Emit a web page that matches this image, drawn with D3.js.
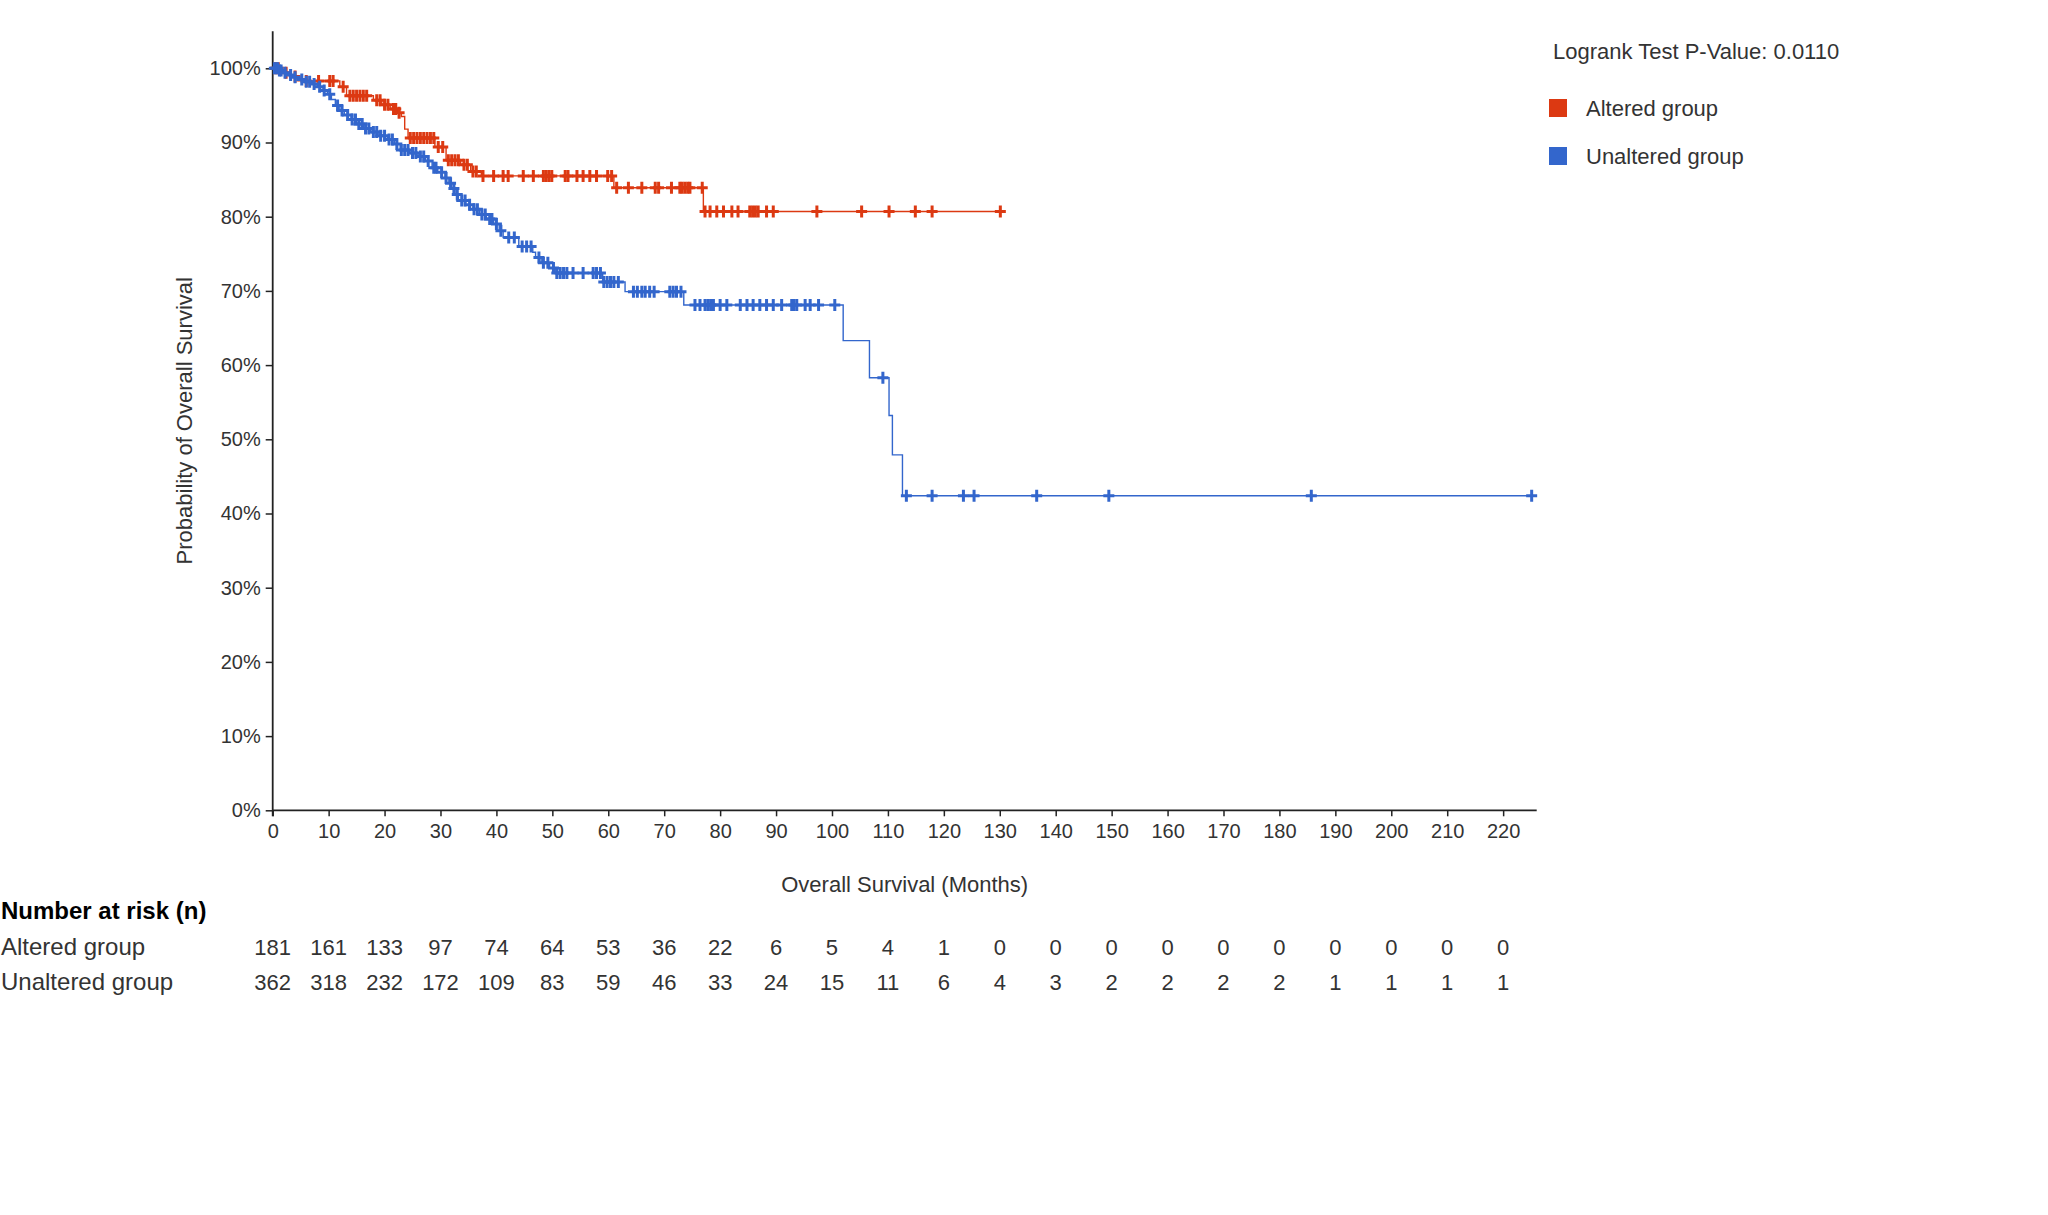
<!DOCTYPE html>
<html>
<head>
<meta charset="utf-8">
<script src="https://cdn.jsdelivr.net/npm/d3@7"></script>
<style>
  body { margin: 0; background: #fff; }
  svg { display: block; font-family: "Liberation Sans", Arial, sans-serif; }
</style>
</head>
<body>
<svg id="chart" width="2048" height="1215"></svg>
<script>
  // KM steps: [month, survival after the event]
  const alteredSteps = [
    [0, 1.0], [1.5, 0.994], [3.0, 0.989], [4.5, 0.983], [12.0, 0.975], [13.2, 0.963],
    [18.0, 0.957], [19.5, 0.951], [21.0, 0.945], [22.3, 0.940], [23.0, 0.935], [23.6, 0.918],
    [24.2, 0.906], [29.0, 0.894], [31.0, 0.876], [33.6, 0.870], [35.4, 0.861], [37.3, 0.855],
    [61.0, 0.839], [77.0, 0.807]
  ]
  const unalteredSteps = [
    [0, 1.0], [1.0, 0.997], [1.8, 0.994], [2.5, 0.991], [3.5, 0.988], [4.5, 0.985], [5.5, 0.982],
    [7.0, 0.979], [8.0, 0.975], [9.0, 0.970], [9.8, 0.965], [10.5, 0.958], [11.2, 0.950],
    [12.0, 0.943], [12.8, 0.937], [14.0, 0.931], [15.0, 0.925], [16.2, 0.919], [17.5, 0.914],
    [19.0, 0.909], [20.5, 0.904], [21.8, 0.898], [22.8, 0.890], [24.5, 0.886], [26.0, 0.881],
    [27.3, 0.875], [28.5, 0.866], [29.5, 0.860], [30.8, 0.852], [31.5, 0.845], [32.0, 0.838],
    [32.6, 0.830], [33.2, 0.822], [34.5, 0.816], [35.8, 0.810], [37.0, 0.803], [38.2, 0.797],
    [39.5, 0.790], [40.5, 0.781], [41.2, 0.772], [44.0, 0.760], [46.5, 0.752], [47.0, 0.745],
    [48.0, 0.738], [49.5, 0.731], [50.5, 0.724], [59.0, 0.712], [63.0, 0.699], [73.5, 0.681],
    [102.0, 0.633], [106.7, 0.583], [110.2, 0.532], [110.8, 0.479], [112.6, 0.424]
  ]

  // censored months
  const alteredCensor = [
    0.5, 1.0, 2.4, 4.0, 6.0, 8.2, 10.2, 10.8, 12.6, 13.8, 14.4, 15.0, 15.6, 16.2, 16.8, 18.6,
    19.2, 20.0, 20.6, 21.6, 22.0, 22.6, 24.6, 25.2, 25.8, 26.4, 27.0, 27.6, 28.2, 28.8, 29.6,
    30.4, 31.4, 32.0, 32.6, 33.2, 34.2, 34.8, 35.8, 36.4, 37.6, 39.5, 41.2, 42.1, 44.8, 46.6,
    48.4, 48.9, 49.4, 49.9, 52.3, 52.8, 54.4, 55.5, 56.7, 57.9, 59.9, 60.6, 61.5, 63.6, 66.0,
    68.4, 69.0, 71.3, 72.8, 73.2, 73.7, 74.2, 74.6, 76.8, 77.3, 78.2, 79.4, 80.6, 82.1, 83.2,
    85.3, 85.8, 86.3, 86.8, 88.3, 89.5, 97.3, 105.3, 110.2, 114.9, 117.9, 130.1
  ]
  const unalteredCensor = [
    0.3, 0.6, 0.9, 1.2, 1.5, 2.2, 3.2, 4.0, 5.2, 6.0, 6.6, 7.4, 8.4, 9.2, 10.2, 11.6, 12.4,
    13.4, 14.2, 14.8, 15.4, 16.0, 16.6, 17.2, 18.0, 18.6, 19.3, 20.0, 20.8, 21.4, 22.2, 23.0,
    23.6, 24.2, 25.0, 25.6, 26.4, 27.0, 27.8, 28.8, 29.2, 30.2, 31.0, 31.8, 32.4, 33.0, 33.8,
    34.4, 35.2, 36.0, 36.6, 37.4, 38.0, 38.8, 39.2, 40.0, 40.8, 42.2, 43.2, 44.6, 45.4, 46.2,
    47.6, 48.4, 49.2, 50.2, 50.8, 51.4, 52.0, 52.6, 53.7, 55.5, 57.3, 57.9, 58.6, 59.2, 59.8,
    60.4, 61.0, 61.8, 64.5, 65.2, 66.0, 66.6, 67.4, 68.2, 71.0, 71.6, 72.2, 73.0, 75.5, 76.4,
    77.3, 77.8, 78.3, 78.8, 80.0, 81.2, 83.6, 84.8, 85.9, 87.1, 88.3, 89.5, 91.0, 92.8, 93.2,
    93.7, 95.2, 96.1, 97.6, 100.5, 109.1, 113.3, 117.9, 123.5, 125.4, 136.6, 149.5, 185.7, 225.1
  ]

  const riskTimes = [0, 10, 20, 30, 40, 50, 60, 70, 80, 90, 100, 110, 120, 130, 140, 150, 160, 170, 180, 190, 200, 210, 220]
  const riskAltered = [181, 161, 133, 97, 74, 64, 53, 36, 22, 6, 5, 4, 1, 0, 0, 0, 0, 0, 0, 0, 0, 0, 0]
  const riskUnaltered = [362, 318, 232, 172, 109, 83, 59, 46, 33, 24, 15, 11, 6, 4, 3, 2, 2, 2, 2, 1, 1, 1, 1]

  const yTicks = [0, 0.1, 0.2, 0.3, 0.4, 0.5, 0.6, 0.7, 0.8, 0.9, 1.0]
  const pValueText = 'Logrank Test P-Value: 0.0110'

  const groups = [
    { name: 'Altered group', color: '#dc3912', steps: alteredSteps, censor: alteredCensor, risk: riskAltered },
    { name: 'Unaltered group', color: '#3366cc', steps: unalteredSteps, censor: unalteredCensor, risk: riskUnaltered }
  ]

  const svg = d3.select('#chart')
  const plotLeft = 272.7
  const plotRight = 1536.7
  const plotBottom = 810.3
  const px100 = 742

  const x = d3.scaleLinear().domain([0, 226]).range([plotLeft, plotRight])
  const y = d3.scaleLinear().domain([0, 1.05]).range([plotBottom, plotBottom - px100 * 1.05])

  const bis = d3.bisector(d => d[0]).right
  function survAt(steps, t) {
    const i = bis(steps, t) - 1
    return steps[Math.max(0, i)][1]
  }

  // axes
  const xAxis = d3.axisBottom(x).tickValues(riskTimes).tickSize(6).tickPadding(8).tickFormat(d3.format('d'))
  const yAxis = d3.axisLeft(y).tickValues(yTicks).tickSize(7).tickPadding(5).tickFormat(d3.format('.0%'))

  const gx = svg.append('g').attr('transform', `translate(0,${plotBottom})`).call(xAxis)
  const gy = svg.append('g').attr('transform', `translate(${plotLeft},0)`).call(yAxis)

  ;[gx, gy].forEach(g => {
    g.select('.domain').attr('stroke', '#222').attr('stroke-width', 1.8)
    g.selectAll('.tick line').attr('stroke', '#222').attr('stroke-width', 1.5)
    g.selectAll('.tick text').attr('fill', '#333').style('font-size', '20px')
      .style('font-family', '"Liberation Sans", Arial, sans-serif')
  })
  // plain domain lines, no end caps
  gx.select('.domain').attr('d', `M${plotLeft},0H${plotRight}`)
  gy.select('.domain').attr('d', `M0,${y(1.05)}V${plotBottom + 6}`)

  svg.append('text')
    .attr('x', (plotLeft + plotRight) / 2).attr('y', 891.7)
    .attr('text-anchor', 'middle').attr('fill', '#333').style('font-size', '22px')
    .text('Overall Survival (Months)')

  svg.append('text')
    .attr('transform', `translate(192,${(y(1.05) + plotBottom) / 2}) rotate(-90)`)
    .attr('text-anchor', 'middle').attr('fill', '#333').style('font-size', '22px')
    .text('Probability of Overall Survival')

  // curves
  const line = d3.line().x(d => x(d[0])).y(d => y(d[1])).curve(d3.curveStepAfter)

  groups.forEach(g => {
    const lastT = d3.max(g.censor)
    const pts = g.steps.concat([[lastT, survAt(g.steps, lastT)]])
    svg.append('path')
      .datum(pts)
      .attr('fill', 'none')
      .attr('stroke', g.color)
      .attr('stroke-width', 1.4)
      .attr('d', line)

    const marks = svg.append('g')
      .attr('stroke', g.color)
      .attr('stroke-width', 3)
    marks.selectAll('path')
      .data(g.censor)
      .join('path')
      .attr('d', t => {
        const cx = x(t), cy = y(survAt(g.steps, t))
        return `M${cx - 5.5},${cy}H${cx + 5.5}M${cx},${cy - 6}V${cy + 6}`
      })
  })

  // legend
  svg.append('text')
    .attr('x', 1553).attr('y', 59)
    .attr('fill', '#333').style('font-size', '22px')
    .text(pValueText)

  const legend = svg.append('g')
  groups.forEach((g, i) => {
    const top = 99 + i * 48
    legend.append('rect')
      .attr('x', 1549).attr('y', top).attr('width', 18).attr('height', 18)
      .attr('fill', g.color)
    legend.append('text')
      .attr('x', 1586).attr('y', top + 17)
      .attr('fill', '#333').style('font-size', '22px')
      .text(g.name)
  })

  // number at risk table
  svg.append('text')
    .attr('x', 1).attr('y', 919)
    .attr('fill', '#000').style('font-size', '24px').style('font-weight', 'bold')
    .text('Number at risk (n)')

  groups.forEach((g, i) => {
    const base = 955 + i * 35
    svg.append('text')
      .attr('x', 1).attr('y', base)
      .attr('fill', '#333').style('font-size', '24px')
      .text(g.name)
    svg.append('g').selectAll('text')
      .data(g.risk)
      .join('text')
      .attr('x', (d, j) => x(riskTimes[j]))
      .attr('y', base)
      .attr('text-anchor', 'middle')
      .attr('fill', '#333').style('font-size', '22px')
      .text(d => d)
  })
</script>
</body>
</html>
